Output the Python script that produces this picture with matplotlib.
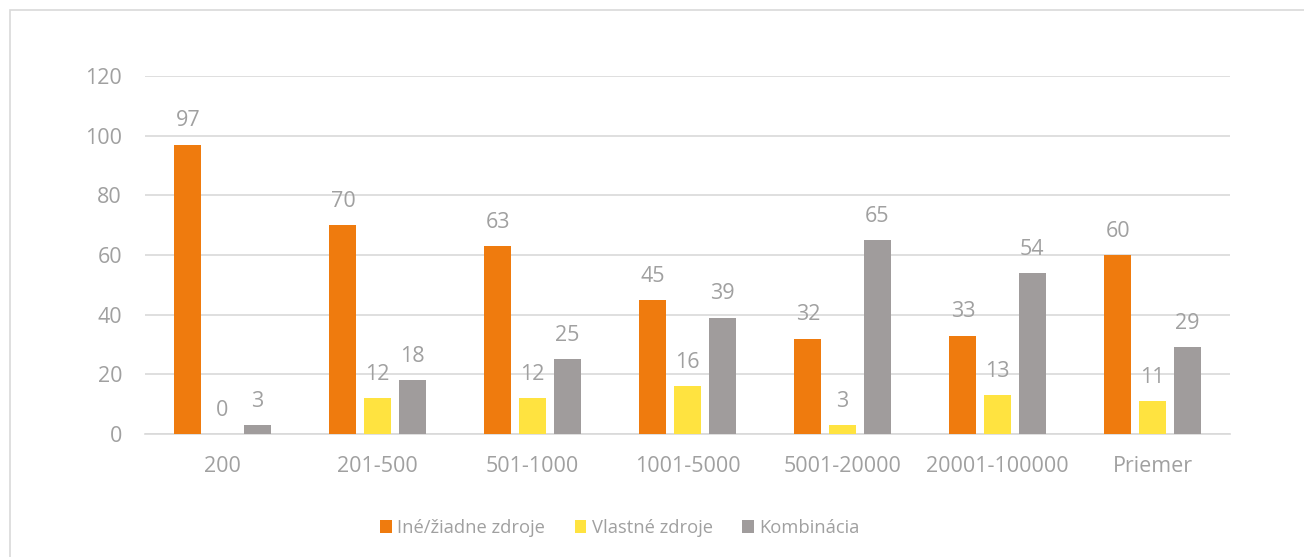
import matplotlib
matplotlib.use("Agg")
import matplotlib.pyplot as plt
import numpy as np
from matplotlib.patches import Rectangle

categories = ["200", "201-500", "501-1000", "1001-5000", "5001-20000", "20001-100000", "Priemer"]
series_names = ["Iné/žiadne zdroje", "Vlastné zdroje", "Kombinácia"]
ine = [97, 70, 63, 45, 32, 33, 60]
vlastne = [0, 12, 12, 16, 3, 13, 11]
kombinacia = [3, 18, 25, 39, 65, 54, 29]
y_ticks = [0, 20, 40, 60, 80, 100, 120]

colors = ["#EF7B0E", "#FFE340", "#A09C9C"]
text_color = "#A0A0A0"
grid_color = "#D9D9D9"

plt.rcParams['font.family'] = ['Open Sans', 'DejaVu Sans']

fig = plt.figure(figsize=(13.04, 5.57), dpi=100)
ax = fig.add_axes([145/1304, 1 - 434/557, (1230-145)/1304, (434-76)/557])

x = np.arange(len(categories))
width = 0.174
pitch = 0.223
for i, (vals, name, c) in enumerate(zip([ine, vlastne, kombinacia], series_names, colors)):
    bars = ax.bar(x + (i - 1) * pitch, vals, width, color=c, label=name, zorder=3)
    for b, v in zip(bars, vals):
        ax.annotate(f"{v:.0f}", (b.get_x() + b.get_width() / 2, b.get_height()),
                    xytext=(0, 9.5), textcoords="offset points", ha="center", va="bottom",
                    fontsize=15.5, color=text_color)

ax.set_xlim(-0.5, len(categories) - 0.5)
ax.set_ylim(0, 120)
ax.set_yticks(y_ticks)
ax.set_xticks(x)
ax.set_xticklabels(categories)
ax.tick_params(axis='both', length=0, labelsize=15.5, labelcolor=text_color)
ax.tick_params(axis='y', pad=16.5)
ax.tick_params(axis='x', pad=15.5)
ax.grid(axis='y', color=grid_color, linewidth=1.2, zorder=0)
for s in ["top", "right", "left"]:
    ax.spines[s].set_visible(False)
ax.spines["bottom"].set_color(grid_color)
ax.spines["bottom"].set_linewidth(1.2)

leg = fig.legend(loc="center", bbox_to_anchor=(620/1304, 1 - 528/557), ncol=3, frameon=False,
                 fontsize=13.2, labelcolor=text_color, handlelength=0.65, handleheight=0.65,
                 handletextpad=0.3, columnspacing=1.6)

fig.patches.append(Rectangle((10/1304, -0.1), 1.2, 1 - 10/557 + 0.1, transform=fig.transFigure,
                             fill=False, edgecolor="#D9D9D9", linewidth=1.2))

fig.savefig("out.png", dpi=100)
